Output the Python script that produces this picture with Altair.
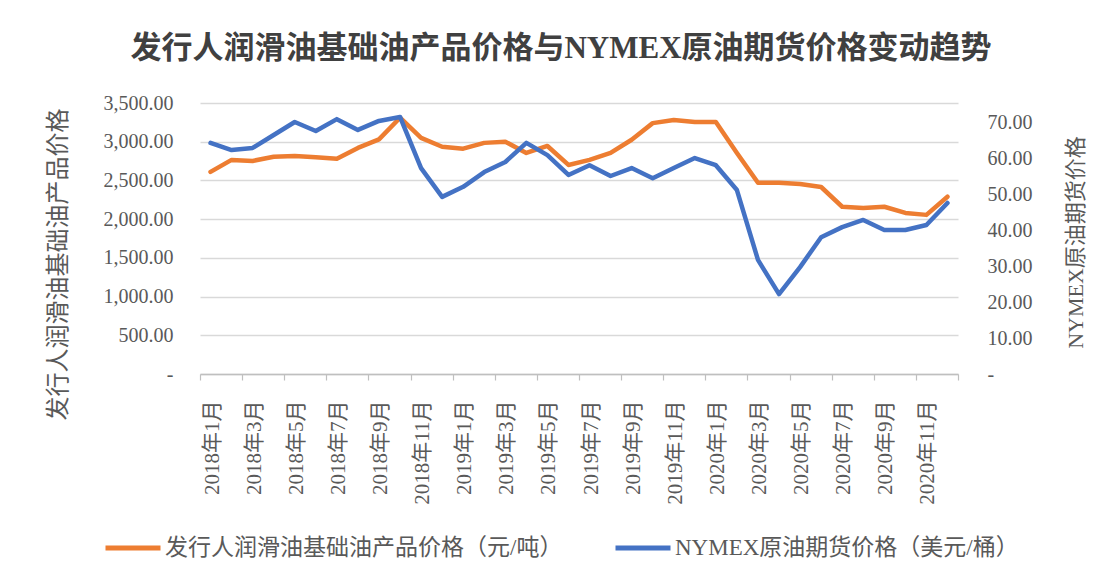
import altair as alt
import pandas as pd

months = ["2018年1月", "2018年2月", "2018年3月", "2018年4月", "2018年5月", "2018年6月",
          "2018年7月", "2018年8月", "2018年9月", "2018年10月", "2018年11月", "2018年12月",
          "2019年1月", "2019年2月", "2019年3月", "2019年4月", "2019年5月", "2019年6月",
          "2019年7月", "2019年8月", "2019年9月", "2019年10月", "2019年11月", "2019年12月",
          "2020年1月", "2020年2月", "2020年3月", "2020年4月", "2020年5月", "2020年6月",
          "2020年7月", "2020年8月", "2020年9月", "2020年10月", "2020年11月", "2020年12月"]

lube_price = [2610, 2765, 2752, 2805, 2815, 2800, 2780, 2920, 3030, 3310, 3050, 2935,
              2910, 2985, 3000, 2855, 2945, 2700, 2765, 2855, 3025, 3240, 3280, 3255,
              3255, 2855, 2470, 2470, 2455, 2415, 2160, 2145, 2160, 2080, 2055, 2290]

wti_price = [64.2, 62.2, 62.8, 66.4, 70.0, 67.5, 70.8, 67.8, 70.3, 71.4, 57.2, 49.2,
             52.0, 56.1, 58.9, 64.2, 60.8, 55.3, 58.0, 55.0, 57.2, 54.4, 57.2, 60.0,
             58.0, 51.1, 31.7, 22.2, 29.7, 38.0, 40.8, 42.8, 40.0, 40.0, 41.4, 47.5]

left_ticks = [0, 500, 1000, 1500, 2000, 2500, 3000, 3500]
right_ticks = [0, 10, 20, 30, 40, 50, 60, 70]

series_names = ["发行人润滑油基础油产品价格（元/吨）", "NYMEX原油期货价格（美元/桶）"]
series_colors = ["#ED7D31", "#4472C4"]

left_title = "发行人润滑油基础油产品价格"
right_title = "NYMEX原油期货价格"
chart_title = "发行人润滑油基础油产品价格与NYMEX原油期货价格变动趋势"

n = len(months)
df_lube = pd.DataFrame({"idx": list(range(n)), "month": months, "value": lube_price,
                        "series": [series_names[0]] * n})
df_wti = pd.DataFrame({"idx": list(range(n)), "month": months, "value": wti_price,
                       "series": [series_names[1]] * n})

SERIF = "Liberation Serif, Noto Sans CJK SC"
GRAY = "#595959"

# tick positions at category boundaries (every two months)
boundaries = [i - 0.5 for i in range(0, n + 1, 2)]
label_array = "[" + ",".join("'" + m + "'" for m in months) + "]"
x_label_expr = f"{label_array}[datum.value + 0.5] || ''"

x_enc = alt.X(
    "idx:Q",
    scale=alt.Scale(domain=[-0.5, n - 0.5], nice=False, zero=False),
    axis=alt.Axis(
        values=boundaries, labelExpr=x_label_expr, title=None, grid=False,
        labelAngle=270, labelAlign="right", labelBaseline="middle",
        labelOffset=12, labelPadding=20, labelOverlap=False, labelBound=False,
        labelFont=SERIF, labelFontSize=21, labelColor=GRAY,
        tickSize=6, tickColor="#BFBFBF", tickWidth=1.2,
        domainColor="#BFBFBF", domainWidth=1.5,
    ),
)

color_enc = alt.Color(
    "series:N",
    scale=alt.Scale(domain=series_names, range=series_colors),
    legend=alt.Legend(
        orient="none", legendX=-97, legendY=415, direction="horizontal", title=None,
        symbolType="stroke", symbolSize=3025, symbolStrokeWidth=5,
        labelFont=SERIF, labelFontSize=23, labelColor=GRAY, labelLimit=0,
        columnPadding=42, labelOffset=2,
    ),
)

line_kw = dict(strokeWidth=4.5, strokeJoin="round", strokeCap="round")

lube = alt.Chart(df_lube).mark_line(**line_kw).encode(
    x=x_enc,
    y=alt.Y(
        "value:Q",
        scale=alt.Scale(domain=[0, 3500], nice=False),
        axis=alt.Axis(
            values=left_ticks,
            labelExpr="datum.value == 0 ? '-\u00a0\u00a0\u00a0' : format(datum.value, ',.2f')",
            grid=True, gridColor="#D9D9D9", gridWidth=1.5,
            domain=False, ticks=False, labelPadding=27,
            labelFont=SERIF, labelFontSize=20, labelColor=GRAY,
            title=left_title, titleFont=SERIF, titleFontSize=24,
            titleFontWeight="normal", titleColor=GRAY, titleAngle=270,
            titleAlign="center", titleBaseline="middle", titleX=-142, titleY=161,
        ),
    ),
    color=color_enc,
)

wti = alt.Chart(df_wti).mark_line(**line_kw).encode(
    x=alt.X("idx:Q"),
    y=alt.Y(
        "value:Q",
        scale=alt.Scale(domain=[0, 75.28], nice=False),
        axis=alt.Axis(
            orient="right", values=right_ticks,
            labelExpr="datum.value == 0 ? '-' : format(datum.value, ',.2f')",
            grid=False, domain=False, ticks=False, labelPadding=29,
            labelFont=SERIF, labelFontSize=20, labelColor=GRAY,
            title=right_title, titleFont=SERIF, titleFontSize=22,
            titleFontWeight="normal", titleColor=GRAY, titleAngle=270,
            titleAlign="center", titleBaseline="middle", titleX=117, titleY=139,
        ),
    ),
    color=alt.Color("series:N"),
)

chart = alt.layer(lube, wti).resolve_scale(y="independent").properties(
    width=758, height=271,
    autosize=alt.AutoSizeParams(type="none"),
    padding={"left": 192, "top": 95, "right": 137, "bottom": 190},
    title=alt.TitleParams(
        chart_title, font=SERIF, fontSize=31, fontWeight="bold", color="#404040",
        anchor="middle", frame="group", dx=-18, offset=28,
    ),
    background="white",
).configure_view(stroke=None)

chart.save("out.html", embed_options={"renderer": "svg", "actions": False})
